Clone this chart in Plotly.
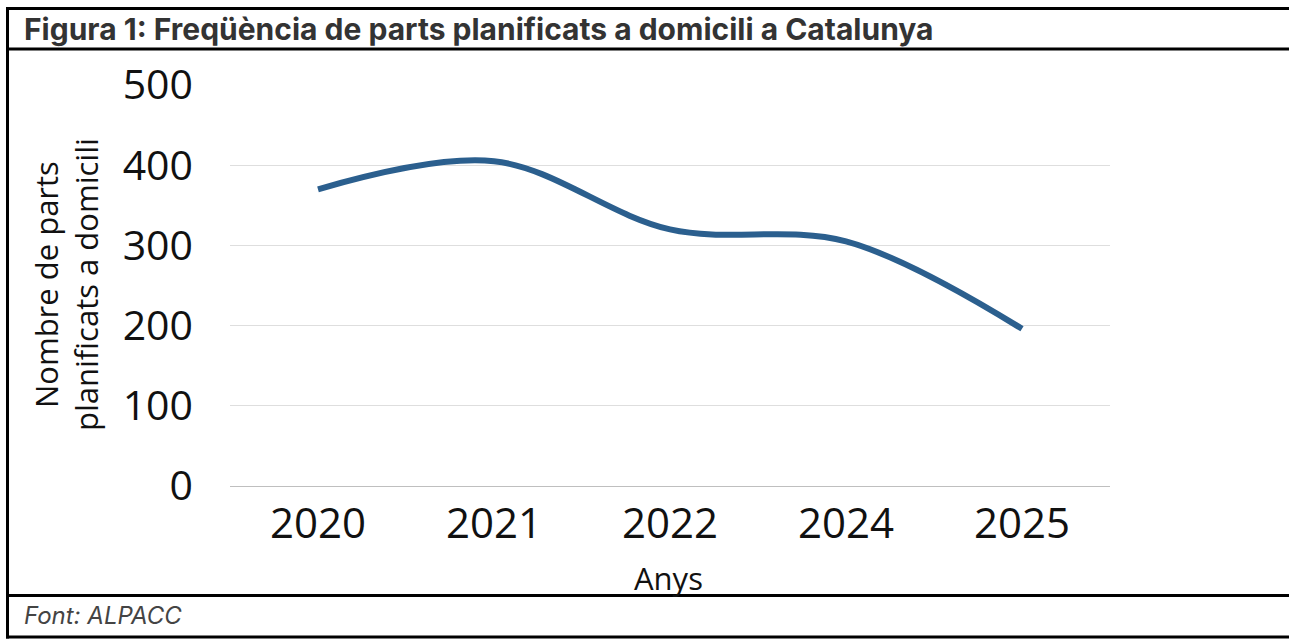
import plotly.graph_objects as go

years = ["2020", "2021", "2022", "2024", "2025"]
births = [370, 405, 320, 305, 196]
y_ticks = [0, 100, 200, 300, 400, 500]

W, H = 1289, 639
L, R, T, B = 230, 1110, 85, 486

def px(x):
    return (x - L) / (R - L)

def py(y):
    return (B - y) / (B - T)

fig = go.Figure()
fig.add_trace(go.Scatter(
    x=years, y=births, mode="lines",
    line=dict(color="#2b5f8e", width=6, shape="spline", smoothing=1.0),
    hoverinfo="x+y", showlegend=False,
))

chart_font = "Open Sans"
fig.update_layout(
    width=W, height=H,
    margin=dict(l=L, r=W - R, t=T, b=H - B),
    paper_bgcolor="white", plot_bgcolor="white",
    xaxis=dict(
        type="category", range=[-0.5, 4.5], showgrid=False, zeroline=False,
        showline=False, ticks="",
        tickfont=dict(family=chart_font, size=42, color="#111111"),
        ticklabelstandoff=9,
    ),
    yaxis=dict(
        range=[0, 500], tickvals=y_ticks, showgrid=True, gridcolor="#dedede",
        gridwidth=1, zeroline=True, zerolinecolor="#bfbfbf", zerolinewidth=1,
        showline=False, ticks="",
        tickfont=dict(family=chart_font, size=41, color="#111111"),
        ticklabelstandoff=36,
    ),
)

ann = []
ann.append(dict(text="<b>Figura 1: Freqüència de parts planificats a domicili a Catalunya</b>",
                x=px(22), y=py(29), xref="paper", yref="paper", xanchor="left", yanchor="middle",
                showarrow=False, font=dict(family="Inter", size=30, color="#333333")))
ann.append(dict(text="<i>Font: ALPACC</i>",
                x=px(22), y=py(615), xref="paper", yref="paper", xanchor="left", yanchor="middle",
                showarrow=False, font=dict(family="Inter", size=24, color="#444444")))
ann.append(dict(text="Anys", x=px(668), y=py(578), xref="paper", yref="paper",
                xanchor="center", yanchor="middle", showarrow=False,
                font=dict(family=chart_font, size=31, color="#111111")))
ann.append(dict(text="Nombre de parts<br>planificats a domicili", x=px(66), y=py(285),
                xref="paper", yref="paper", xanchor="center", yanchor="middle",
                textangle=-90, showarrow=False,
                font=dict(family=chart_font, size=31, color="#111111")))
fig.update_layout(annotations=ann)

shapes = []
for yy in [8.5, 49, 595.5, 637]:
    shapes.append(dict(type="line", xref="paper", yref="paper",
                       x0=px(6), x1=px(1300), y0=py(yy), y1=py(yy),
                       line=dict(color="black", width=3)))
shapes.append(dict(type="line", xref="paper", yref="paper",
                   x0=px(7.5), x1=px(7.5), y0=py(7), y1=py(638.5),
                   line=dict(color="black", width=3)))
fig.update_layout(shapes=shapes)

fig.write_html("out.html", config={"displayModeBar": False},
               post_script="document.body.style.margin='0';document.body.style.overflow='hidden';")
